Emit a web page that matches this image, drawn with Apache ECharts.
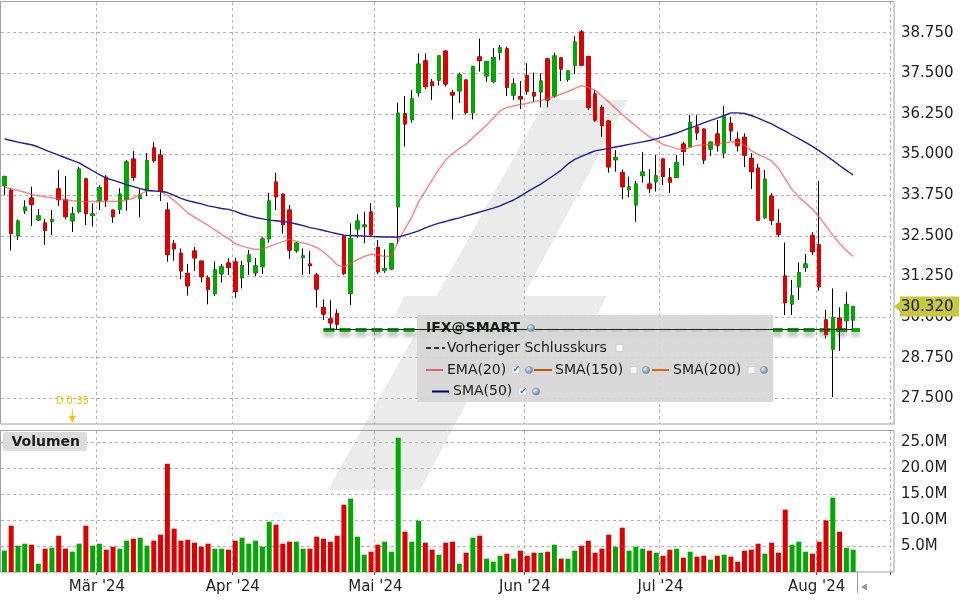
<!DOCTYPE html>
<html><head><meta charset="utf-8">
<script src="https://cdn.jsdelivr.net/npm/echarts@6/dist/echarts.min.js"></script>
<style>html,body{margin:0;padding:0;background:#fff}#c{width:960px;height:600px}</style>
</head><body><div id="c"></div>
<script>
// ---------- DATA ----------
const dates = [
'2024-02-12','2024-02-13','2024-02-14','2024-02-15','2024-02-16','2024-02-19','2024-02-20','2024-02-21','2024-02-22','2024-02-23','2024-02-26','2024-02-27','2024-02-28','2024-02-29',
'2024-03-01','2024-03-04','2024-03-05','2024-03-06','2024-03-07','2024-03-08','2024-03-11','2024-03-12','2024-03-13','2024-03-14','2024-03-15','2024-03-18','2024-03-19','2024-03-20','2024-03-21','2024-03-22','2024-03-25','2024-03-26','2024-03-27','2024-03-28',
'2024-04-02','2024-04-03','2024-04-04','2024-04-05','2024-04-08','2024-04-09','2024-04-10','2024-04-11','2024-04-12','2024-04-15','2024-04-16','2024-04-17','2024-04-18','2024-04-19','2024-04-22','2024-04-23','2024-04-24','2024-04-25','2024-04-26','2024-04-29','2024-04-30',
'2024-05-02','2024-05-03','2024-05-06','2024-05-07','2024-05-08','2024-05-09','2024-05-10','2024-05-13','2024-05-14','2024-05-15','2024-05-16','2024-05-17','2024-05-20','2024-05-21','2024-05-22','2024-05-23','2024-05-24','2024-05-27','2024-05-28','2024-05-29','2024-05-30','2024-05-31',
'2024-06-03','2024-06-04','2024-06-05','2024-06-06','2024-06-07','2024-06-10','2024-06-11','2024-06-12','2024-06-13','2024-06-14','2024-06-17','2024-06-18','2024-06-19','2024-06-20','2024-06-21','2024-06-24','2024-06-25','2024-06-26','2024-06-27','2024-06-28',
'2024-07-01','2024-07-02','2024-07-03','2024-07-04','2024-07-05','2024-07-08','2024-07-09','2024-07-10','2024-07-11','2024-07-12','2024-07-15','2024-07-16','2024-07-17','2024-07-18','2024-07-19','2024-07-22','2024-07-23','2024-07-24','2024-07-25','2024-07-26','2024-07-29','2024-07-30','2024-07-31',
'2024-08-01','2024-08-02','2024-08-05','2024-08-06','2024-08-07','2024-08-08'];

const opens = [
34.04,33.89,32.50,33.27,33.66,32.99,32.89,32.94,33.94,33.60,
32.96,33.24,34.25,33.12,33.58,34.30,33.29,33.32,33.62,34.86,
33.65,33.89,35.20,34.98,33.29,32.25,31.96,31.34,32.03,31.72,
31.20,30.72,31.33,31.66,31.69,31.21,31.70,31.36,31.55,32.41,
34.15,33.78,33.29,32.04,31.83,31.63,31.29,30.29,29.94,30.11,
32.50,30.73,32.71,32.78,33.23,32.14,31.43,31.48,33.39,36.25,
36.08,36.90,37.88,37.23,37.29,38.18,36.90,36.96,37.29,36.29,
38.00,37.42,37.25,38.15,38.25,36.83,36.78,37.43,36.90,36.93,
37.94,36.80,37.97,37.31,37.75,38.77,38.01,36.86,36.45,36.03,
34.84,34.44,33.92,33.45,34.35,34.09,34.16,34.86,34.28,34.29,
35.32,35.24,35.84,35.78,35.17,35.63,35.05,35.96,35.47,35.53,
34.88,34.58,33.06,33.72,32.88,31.26,30.40,30.93,31.52,32.50,
32.22,29.91,29.01,29.96,29.89,29.91];

const closes = [
34.32,32.57,32.95,33.38,33.46,33.11,32.66,32.99,33.61,33.09,
33.17,34.55,33.18,33.17,33.98,33.60,33.09,33.78,34.77,34.30,
33.75,34.81,34.81,33.88,31.92,32.10,31.42,30.96,31.82,31.24,
30.85,31.45,31.54,31.52,30.78,31.58,31.91,31.57,32.40,33.57,
33.70,32.84,32.06,32.27,31.88,31.58,30.86,30.09,29.82,29.78,
31.34,32.42,32.95,32.83,32.53,31.39,31.49,32.25,36.27,35.94,
36.71,37.78,37.09,37.12,38.03,37.17,36.83,37.45,36.29,37.70,
37.89,37.86,37.98,38.28,37.06,37.17,36.71,36.95,36.80,37.26,
36.68,38.03,37.63,37.57,38.46,37.75,36.45,36.06,35.89,34.62,
34.90,34.01,34.00,34.09,34.46,33.95,34.34,34.32,34.15,34.75,
35.09,35.99,35.67,34.83,35.38,35.29,36.16,35.73,35.27,34.98,
34.47,32.98,34.24,32.98,32.55,30.44,30.65,31.36,31.63,32.01,
30.93,29.47,29.99,29.62,30.39,30.32];

const lows = [
33.75,32.05,32.37,33.17,32.80,32.95,32.22,32.52,33.42,33.00,
32.62,33.19,32.83,32.78,33.29,33.39,32.90,33.17,33.27,34.19,
33.07,33.72,34.75,33.57,31.70,31.73,31.16,30.66,31.42,31.07,
30.39,30.65,31.06,31.29,30.59,30.88,31.29,31.26,31.32,32.29,
33.29,32.57,31.79,31.98,31.29,31.32,30.29,29.91,29.65,29.60,
31.29,30.37,32.44,32.27,32.47,31.32,31.36,31.45,32.25,35.24,
35.98,36.78,37.01,36.68,37.12,37.09,36.08,36.59,36.24,36.08,
37.55,37.24,37.19,37.91,36.80,36.68,36.40,36.84,36.62,36.45,
36.45,36.75,37.26,37.24,37.48,37.73,36.37,36.01,35.55,34.44,
34.47,33.62,33.68,32.93,34.13,33.81,33.86,34.06,33.82,34.29,
34.66,35.24,35.45,34.71,34.96,35.09,34.88,35.42,35.09,34.61,
33.94,32.98,33.02,32.83,32.47,30.06,30.06,30.52,31.39,31.91,
30.81,29.34,27.53,28.96,29.55,29.60];

const highs = [
34.35,33.96,33.00,33.59,34.01,33.32,33.02,33.29,34.52,34.34,
33.39,34.62,34.25,33.50,34.05,34.37,33.29,33.96,34.83,35.11,
33.93,35.04,35.38,35.16,33.52,32.37,32.11,31.63,32.15,31.72,
31.28,31.71,31.63,31.81,31.82,31.73,32.06,31.81,32.47,33.82,
34.44,33.78,33.45,32.30,32.11,32.03,31.36,30.54,30.52,30.24,
32.50,32.88,33.16,33.24,33.50,32.37,32.08,32.27,36.59,36.80,
36.98,38.11,38.11,37.32,38.05,38.20,36.98,37.52,37.31,37.72,
38.57,37.88,38.27,38.37,38.32,37.34,37.26,37.81,37.52,37.50,
37.96,38.13,37.99,37.59,38.65,38.83,38.04,36.98,36.52,36.05,
35.14,34.54,34.32,34.18,35.08,34.55,34.98,34.88,34.58,34.98,
35.39,36.22,36.22,35.80,35.40,36.06,36.49,36.16,35.70,35.65,
35.04,34.71,34.52,33.81,33.32,32.29,31.14,31.68,31.94,32.61,
34.19,30.22,30.88,30.30,30.78,30.34];

// volume in millions
const volumes = [
4.1,8.9,5.06,5.44,5.25,1.6,4.48,4.67,6.98,4.48,
3.9,5.44,8.9,5.06,5.44,4.29,4.87,4.48,6.02,6.4,
6.6,5.06,6.02,7.17,20.8,8.33,6.02,6.21,5.63,4.87,
5.44,4.48,4.48,4.29,6.02,6.6,5.44,6.02,4.87,9.67,
9.1,5.44,5.83,5.83,4.48,4.48,6.79,6.4,5.83,6.98,
12.94,14.1,6.79,3.33,3.9,5.25,5.83,3.9,25.8,7.75,
5.83,9.87,5.63,4.29,3.33,5.63,5.83,1.6,3.71,6.6,
6.98,2.56,1.98,3.13,3.52,2.56,4.1,3.13,3.71,3.71,
3.9,5.25,2.56,2.56,4.1,5.06,6.02,3.71,4.48,7.17,
4.87,8.52,4.1,4.87,4.48,4.1,3.71,3.13,4.29,4.48,
2.75,3.9,2.94,3.13,2.37,3.13,3.33,2.94,1.98,4.1,
4.29,5.44,3.52,5.63,3.71,11.98,5.25,5.83,3.9,3.52,
5.83,9.92,14.29,7.75,4.67,4.29];

const ema20 = [
34.00,33.94,33.90,33.84,33.77,33.73,33.70,33.67,33.64,33.61,
33.58,33.56,33.55,33.55,33.55,33.55,33.55,33.57,33.60,33.66,
33.78,33.88,33.87,33.86,33.75,33.58,33.40,33.20,33.07,32.95,
32.82,32.68,32.54,32.41,32.26,32.18,32.12,32.08,32.09,32.17,
32.25,32.32,32.39,32.33,32.28,32.22,32.14,32.00,31.82,31.60,
31.54,31.65,31.77,31.86,31.93,31.91,31.86,31.88,32.34,32.71,
33.08,33.54,33.88,34.22,34.55,34.83,35.03,35.18,35.32,35.52,
35.71,35.90,36.12,36.34,36.45,36.49,36.54,36.58,36.62,36.66,
36.71,36.78,36.86,36.94,37.03,37.12,37.06,36.98,36.80,36.62,
36.42,36.23,36.05,35.88,35.70,35.55,35.43,35.31,35.25,35.18,
35.15,35.22,35.28,35.30,35.31,35.32,35.35,35.39,35.38,35.29,
35.12,35.00,34.92,34.80,34.58,34.25,33.92,33.69,33.51,33.32,
33.08,32.80,32.52,32.26,32.05,31.86];

const sma50 = [
35.48,35.43,35.38,35.34,35.30,35.23,35.14,35.06,34.98,34.90,
34.82,34.74,34.62,34.50,34.38,34.27,34.21,34.14,34.07,34.01,
33.95,33.90,33.88,33.87,33.83,33.74,33.65,33.58,33.53,33.48,
33.42,33.38,33.34,33.31,33.25,33.17,33.11,33.06,33.02,32.98,
32.96,32.94,32.91,32.86,32.81,32.75,32.71,32.66,32.61,32.56,
32.52,32.51,32.50,32.49,32.48,32.47,32.46,32.46,32.46,32.52,
32.58,32.65,32.74,32.82,32.89,32.94,33.00,33.05,33.11,33.17,
33.23,33.29,33.35,33.42,33.51,33.60,33.72,33.85,33.97,34.09,
34.23,34.37,34.52,34.71,34.85,34.94,35.03,35.11,35.15,35.19,
35.23,35.27,35.31,35.35,35.39,35.43,35.48,35.54,35.60,35.66,
35.74,35.82,35.89,35.97,36.05,36.12,36.20,36.28,36.28,36.26,
36.20,36.12,36.03,35.94,35.83,35.72,35.60,35.49,35.37,35.25,
35.11,34.97,34.82,34.66,34.51,34.37];

const monthLabels = {'2024-03-01':"Mär '24",'2024-04-02':"Apr '24",'2024-05-02':"Mai '24",'2024-06-03':"Jun '24",'2024-07-01':"Jul '24",'2024-08-01':"Aug '24"};
const priceTicks = [27.5,28.75,30,31.25,32.5,33.75,35,36.25,37.5,38.75];
const volumeTicks = [5,10,15,20,25];
const prevClose = 29.62;
const prevLineFrom = '2024-04-19';
const dividendDate = '2024-02-26';
const dividendText = 'D 0.35';
const symbolName = 'IFX@SMART';

// ---------- LAYOUT / STYLE ----------
const FONT = 'DejaVu Sans';
const UP = '#00a800', DOWN = '#dd0000';
const EXTRA = ['x1','x2','x3','x4','x5'];
const cats = dates.concat(EXTRA);
const BAND = 6.79;
const GRID_W = BAND * cats.length;
const PRICE_MIN = 26.708, PRICE_MAX = 39.692;
const VOL_MAX = 27.1;
const monthIdx = new Set();
cats.forEach((d,i)=>{ if (monthLabels[d]) monthIdx.add(i); });
const isMonth = (i)=> monthIdx.has(i);
const gridLine = {color:'#b4b4b4', type:[3,3], width:1};

const chart = echarts.init(document.getElementById('c'), null, {renderer:'canvas'});

const option = {
  animation:false,
  textStyle:{fontFamily:FONT},
  grid:[
    {left:1, top:2, width:GRID_W, height:422, show:false},
    {left:1, top:431, width:GRID_W, height:141, show:false}
  ],
  xAxis:[
    {type:'category', gridIndex:0, data:cats, boundaryGap:true,
     axisLine:{show:false}, axisTick:{show:false}, axisLabel:{show:false},
     splitLine:{show:true, interval:(i)=>isMonth(i), lineStyle:gridLine}},
    {type:'category', gridIndex:1, data:cats, boundaryGap:true,
     axisLine:{show:false},
     axisTick:{show:true, interval:(i)=>isMonth(i), length:3, lineStyle:{color:'#555'}},
     axisLabel:{show:true, interval:(i)=>isMonth(i), margin:8,
       formatter:(v)=> monthLabels[v] ? '{a|'+monthLabels[v]+'}' : '',
       rich:{a:{fontSize:15, color:'#222', fontFamily:FONT, padding:[0,5,0,0]}}},
     splitLine:{show:true, interval:(i)=>isMonth(i), lineStyle:gridLine}}
  ],
  yAxis:[
    {type:'value', gridIndex:0, position:'right', offset:3.5, min:PRICE_MIN, max:PRICE_MAX,
     axisLine:{show:false}, axisTick:{show:false, customValues:priceTicks},
     axisLabel:{customValues:priceTicks, formatter:(v)=>v.toFixed(3), color:'#222', fontSize:15, margin:7, fontFamily:FONT},
     splitLine:{show:true, lineStyle:gridLine}},
    {type:'value', gridIndex:1, position:'right', offset:3.5, min:0, max:VOL_MAX,
     axisLine:{show:false}, axisTick:{show:false, customValues:volumeTicks},
     axisLabel:{customValues:volumeTicks, formatter:(v)=>v.toFixed(1)+'M', color:'#222', fontSize:15, margin:7, fontFamily:FONT},
     splitLine:{show:true, lineStyle:gridLine}}
  ],
  series:[
    {name:'wick', type:'candlestick', xAxisIndex:0, yAxisIndex:0, barWidth:4, z:2,
     data: dates.map((d,i)=>[opens[i],closes[i],lows[i],highs[i]]),
     itemStyle:{color:'rgba(0,0,0,0)', color0:'rgba(0,0,0,0)', borderColor:'#000', borderColor0:'#000', borderColorDoji:'#000', borderWidth:1},
     markPoint:{silent:true, animation:false, z:5,
       data:[{coord:[dividendDate, PRICE_MIN+0.25], symbol:'path://M3,0 L4,0 L4,7 L7,7 L3.5,14 L0,7 L3,7 Z', symbolSize:[7,14],
         itemStyle:{color:'#f7c200'},
         label:{show:true, position:'top', distance:2, formatter:dividendText, color:'#f2c000', fontSize:10, fontFamily:FONT}}]}},
    {name:'body', type:'candlestick', xAxisIndex:0, yAxisIndex:0, barWidth:4, z:3,
     data: dates.map((d,i)=>[opens[i],closes[i],Math.min(opens[i],closes[i]),Math.max(opens[i],closes[i])]),
     itemStyle:{color:UP, color0:DOWN, borderColor:UP, borderColor0:DOWN, borderColorDoji:UP, borderWidth:1}},
    {name:'EMA(20)', type:'line', xAxisIndex:0, yAxisIndex:0, data:ema20, symbol:'none', z:4,
     lineStyle:{color:'rgba(255,70,70,0.65)', width:1.5}},
    {name:'SMA(50)', type:'line', xAxisIndex:0, yAxisIndex:0, data:sma50, symbol:'none', z:4,
     lineStyle:{color:'#1c1ca6', width:1.4}},
    {name:'prevGreen', type:'line', xAxisIndex:0, yAxisIndex:0, data:[], z:1,
     markLine:{silent:true, animation:false, z:0.2, symbol:['none','none'], label:{show:false},
       lineStyle:{color:'#00b000', width:4, type:[11,5], shadowColor:'rgba(0,0,0,0.35)', shadowBlur:4, shadowOffsetY:4},
       data:[[{coord:[prevLineFrom, prevClose]},{coord:[EXTRA[0], prevClose]}]]}},
    {name:'prevBlack', type:'line', xAxisIndex:0, yAxisIndex:0, data:[], z:8,
     markLine:{silent:true, animation:false, z:8, symbol:['none','none'], label:{show:false},
       lineStyle:{color:'#222', width:1, type:'solid'},
       data:[[{coord:[prevLineFrom, prevClose]},{coord:[dates[dates.length-1], prevClose]}]]}},
    {name:'Volumen', type:'bar', xAxisIndex:1, yAxisIndex:1, barWidth:5,
     data: volumes.map((v,i)=>({value:v, itemStyle:{color: closes[i]>=opens[i]?UP:DOWN}}))}
  ]
};
chart.setOption(option);

// ---------- DECORATION ----------
const lastClose = closes[closes.length-1];
const tagY = chart.convertToPixel({yAxisIndex:0}, lastClose);
const AX = 894;
const T = (text,x,y,opt,z)=>({type:'text', z:(z||12), silent:true,
  style:Object.assign({text:text, x:x, y:y, fill:'#1a1a1a', fontSize:14, fontFamily:FONT, align:'left', verticalAlign:'middle'}, opt||{})});
const line = (x1,y1,x2,y2,stroke,w,dash,z)=>({type:'line', z:z||12, silent:true, shape:{x1,y1,x2,y2}, style:{stroke, lineWidth:w||1, lineDash:dash||null}});
const box = (x,y,checked)=>{
  const a=[{type:'rect', z:12, silent:true, shape:{x:x,y:y-3.5,width:7,height:7}, style:{fill:'#fff', stroke:'#d0d0d0', lineWidth:1}}];
  if (checked) a.push(T('\u2714', x+0.5, y, {fill:'#2a6fd6', fontSize:9}, 13));
  return a;
};
const globe = (x,y)=>({type:'circle', z:12, silent:true, shape:{cx:x, cy:y, r:3.6},
  style:{fill:new echarts.graphic.RadialGradient(0.35,0.35,0.8,[{offset:0,color:'#dfe8f2'},{offset:1,color:'#4d6f95'}]), stroke:'#6c85a3', lineWidth:0.5}});

const g = [];
// watermark
g.push({type:'polygon', z:-1, silent:true, shape:{points:[[546,100],[628,100],[420,490],[328,490]]}, style:{fill:'#ebebeb'}});
g.push({type:'polygon', z:-1, silent:true, shape:{points:[[404,296],[606,296],[596,318],[394,318]]}, style:{fill:'#ebebeb'}});
// panel frames
g.push({type:'rect', z:1, silent:true, shape:{x:0.5,y:1.5,width:AX-0.5,height:422.5}, style:{fill:null, stroke:'#a0a0a0', lineWidth:1}});
g.push({type:'rect', z:1, silent:true, shape:{x:0.5,y:430.5,width:AX-0.5,height:141.5}, style:{fill:null, stroke:'#a0a0a0', lineWidth:1}});
// legend box
g.push({type:'rect', z:0.5, silent:true, shape:{x:417,y:315,width:356,height:87}, style:{fill:'rgba(214,214,214,0.92)'}});
g.push(T(symbolName, 426, 328, {fontWeight:'bold'}));
g.push(globe(531,328));
g.push(line(426,348,445,348,'#333',2,[5,3]));
g.push(T('Vorheriger Schlusskurs', 447, 348));
g.push(...box(616,348,false));
g.push(line(426,370,443,370,'#e06464',2));
g.push(T('EMA(20)', 447, 370));
g.push(...box(512,370,true));
g.push(globe(529,370));
g.push(line(534,370,552,370,'#b35a00',2));
g.push(T('SMA(150)', 555, 370));
g.push(...box(630,370,false));
g.push(globe(646,370));
g.push(line(652,370,669,370,'#e8650a',2));
g.push(T('SMA(200)', 673, 370));
g.push(...box(748,370,false));
g.push(globe(764,370));
g.push(line(432,391.5,449,391.5,'#000080',2));
g.push(T('SMA(50)', 453, 391.5));
g.push(...box(519,391.5,true));
g.push(globe(536,391.5));
// Volumen label
g.push({type:'rect', z:12, silent:true, shape:{x:3,y:432,width:84,height:19,r:2}, style:{fill:'#dcdcdc'}});
g.push(T('Volumen', 11.5, 442, {fontWeight:'bold', fontSize:14}));
// last price tag
g.push({type:'polygon', z:14, silent:true, shape:{points:[[AX,tagY],[AX+6,tagY-5],[AX+6,tagY-10],[959,tagY-10],[959,tagY+10],[AX+6,tagY+10],[AX+6,tagY+5]]}, style:{fill:'#c8c83a'}});
g.push(T(lastClose.toFixed(3), 901, tagY+0.5, {fontSize:15, fill:'#111'}, 15));
// scroll marker
g.push(line(857.5,572,857.5,593,'#999',1,null,5));
g.push({type:'polygon', z:5, silent:true, shape:{points:[[861,587],[867,583.5],[867,590.5]]}, style:{fill:'#999'}});

chart.setOption({graphic:{elements:g}});
</script>
</body></html>
